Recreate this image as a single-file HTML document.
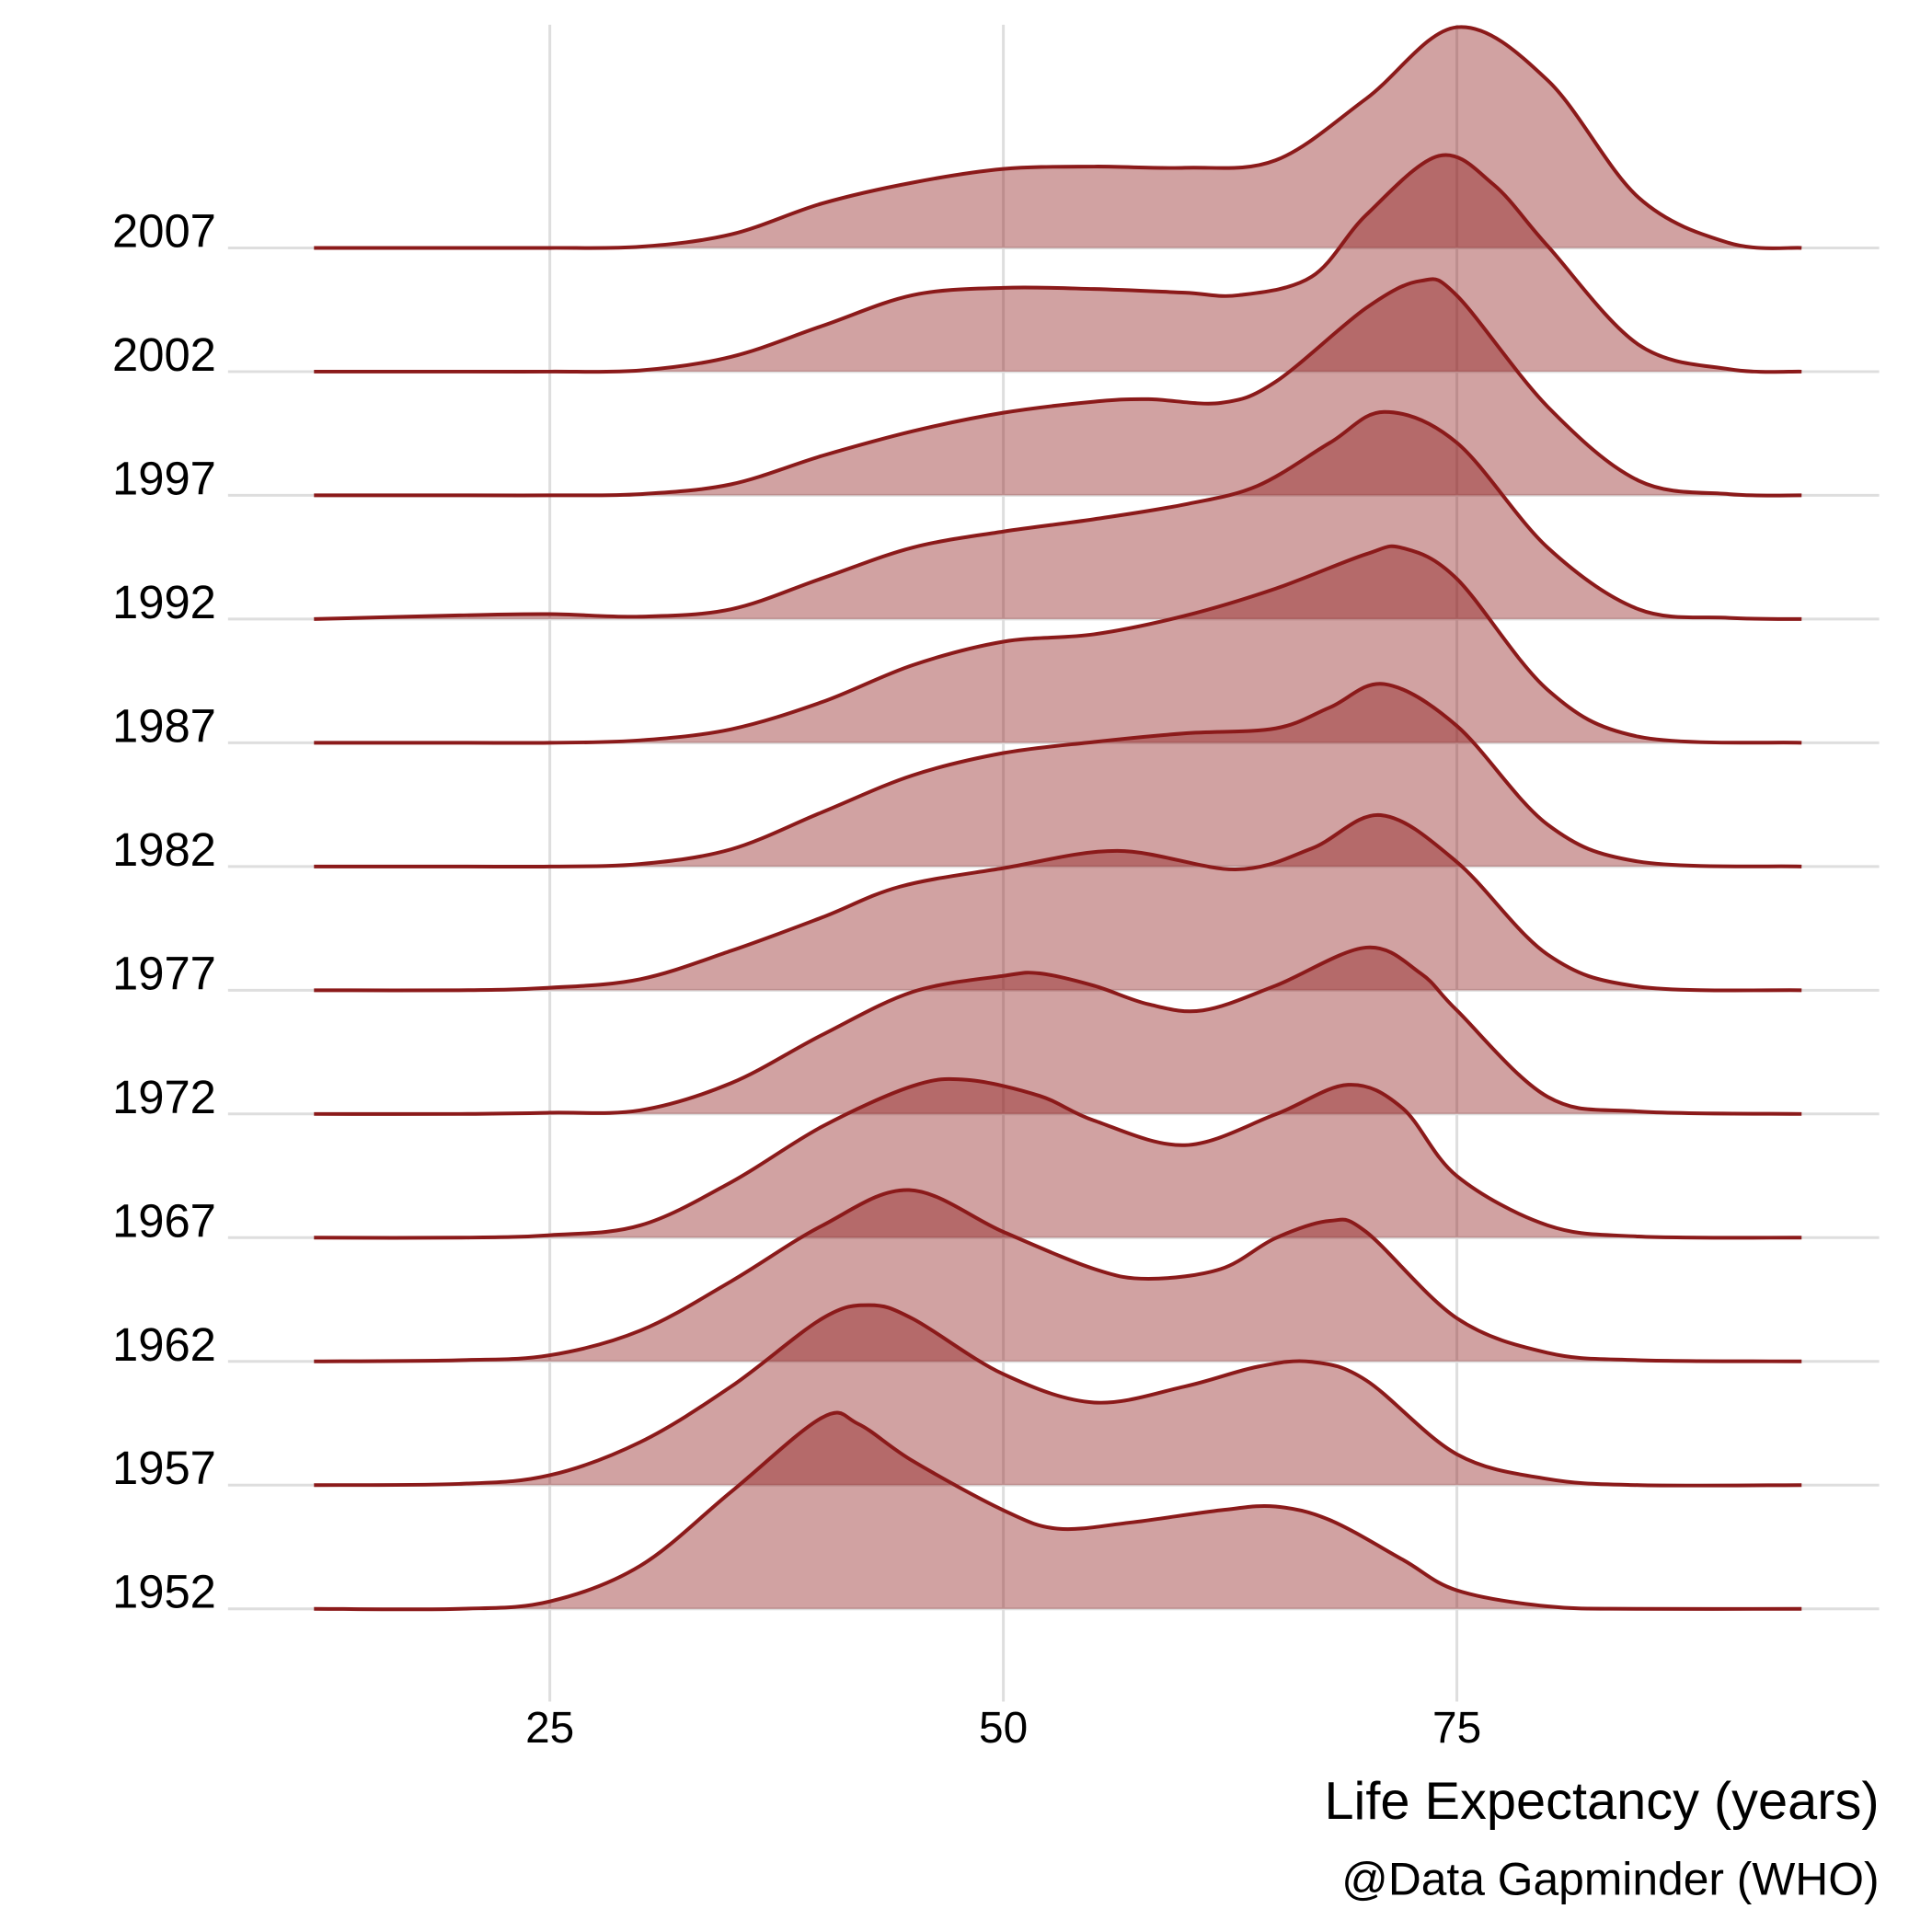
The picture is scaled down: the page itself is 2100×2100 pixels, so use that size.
<!DOCTYPE html>
<html><head><meta charset="utf-8"><style>
html,body{margin:0;padding:0;background:#fff;}
svg{display:block;font-family:"Liberation Sans",sans-serif;}
</style></head><body>
<svg id="chart" width="2100" height="2100" viewBox="0 0 2100 2100" xmlns="http://www.w3.org/2000/svg">
<g transform="scale(0.9954)">
<g id="grid"></g>
<g id="ridges"></g>
<g id="labels"></g>
<text x="2052" y="1986" font-size="58" text-anchor="end" fill="#000">Life Expectancy (years)</text>
<text x="2052" y="2069" font-size="50" text-anchor="end" fill="#000">@Data Gapminder (WHO)</text>
</g>
</svg>
<script>
const years = ["1952","1957","1962","1967","1972","1977","1982","1987","1992","1997","2002","2007"];
const xTicks = [25,50,75];
const d1952 = [[12,0],[20,0],[25,6],[30,35],[35,95],[40,155],[42,150],[45,120],[50,80],[53,65],[57,70],[62,80],[65,83],[68,72],[72,40],[75,15],[80,2],[85,0],[94,0]];
const d1957 = [[12,0],[20,1],[25,8],[30,35],[35,80],[40,135],[42.6,146],[45,135],[50,90],[55,67],[60,80],[64,96],[67,100],[70,85],[75,25],[80,5],[85,0],[94,0]];
const d1962 = [[12,0],[20,1],[25,5],[30,25],[35,65],[40,110],[44.8,139],[50,105],[55,75],[58,67],[62,75],[65,100],[68,114],[70,105],[75,35],[80,7],[85,1],[94,0]];
const d1967 = [[12,0],[20,0],[25,2],[30,10],[35,45],[40,90],[45,123],[48,128],[52,115],[55,95],[60,75],[65,100],[69,124],[72,105],[75,50],[80,10],[85,1],[94,0]];
const d1972 = [[12,0],[20,0],[25,1],[30,3],[35,25],[40,64],[45,99],[50,112],[52,114],[55,104],[58,89],[61,84],[65,104],[70,135],[73,114],[75,84],[80,14],[85,2],[94,0]];
const d1977 = [[12,0],[20,0],[25,2],[30,9],[35,32],[40,59],[44.3,84],[50,99],[56.3,113],[62.8,98],[67,115],[70.8,142],[75,104],[80,29],[85,3],[94,0]];
const d1982 = [[12,0],[20,0],[25,0],[30,2],[35,14],[40,44],[45,74],[50,92],[55,101],[60,108],[65,112],[68,129],[71,148],[75,114],[80,34],[85,4],[94,0]];
const d1987 = [[12,0],[20,0],[25,0],[30,2],[35,11],[40,33],[45,63],[50,82],[55,88],[60,103],[65,125],[70,153],[72,158],[75,133],[80,43],[85,5],[94,0]];
const d1992 = [[12,0],[20,3],[25,4],[30,2],[35,8],[40,33],[45,58],[50,71],[55,81],[60,93],[64,108],[68,143],[71,168],[75,143],[80,58],[85,8],[90,1],[94,0]];
const d1997 = [[12,0],[20,0],[25,0],[30,1],[35,9],[40,32],[45,52],[50,67],[55,76],[58,78],[62,75],[65,92],[70,152],[73,174],[75,162],[80,72],[85,12],[90,1],[94,0]];
const d2002 = [[12,0],[20,0],[25,0],[30,1],[35,12],[40,37],[45,62],[50,68],[55,67],[60,64],[63,62],[67,77],[70,127],[74,175],[77,152],[80,102],[85,22],[90,2],[94,0]];
const d2007 = [[12,0],[20,0],[25,0],[30,1],[35,11],[40,36],[45,53],[50,64],[55,66],[60,65],[65,71],[70,121],[75,179],[80,136],[85,41],[90,4],[94,0]];
const densities = [d1952,d1957,d1962,d1967,d1972,d1977,d1982,d1987,d1992,d1997,d2002,d2007];

const NS = "http://www.w3.org/2000/svg";
const xS = v => 600.4 + (v - 25) * 19.81;
const baseY = i => 1756.8 - i * 135.1;
const hS = h => h * 1.3462;

const grid = document.getElementById('grid');
const labels = document.getElementById('labels');
const ridges = document.getElementById('ridges');

xTicks.forEach(t => {
  const l = document.createElementNS(NS, 'line');
  
  
  l.setAttribute('x1', xS(t)); l.setAttribute('x2', xS(t));
  l.setAttribute('y1', 27); l.setAttribute('y2', 1858);
  l.setAttribute('stroke', '#dedede'); l.setAttribute('stroke-width', 3);
  grid.appendChild(l);
  const tx = document.createElementNS(NS, 'text');
  
  
  tx.setAttribute('x', xS(t)); tx.setAttribute('y', 1903);
  tx.setAttribute('font-size', 48); tx.setAttribute('text-anchor', 'middle');
  tx.textContent = t;
  labels.appendChild(tx);
});
years.forEach((y, i) => {
  const l = document.createElementNS(NS, 'line');
  
  
  l.setAttribute('x1', 249); l.setAttribute('x2', 2052);
  l.setAttribute('y1', baseY(i)); l.setAttribute('y2', baseY(i));
  l.setAttribute('stroke', '#dedede'); l.setAttribute('stroke-width', 3);
  grid.appendChild(l);
  const tx = document.createElementNS(NS, 'text');
  
  
  tx.setAttribute('x', 236); tx.setAttribute('y', baseY(i) - 1);
  tx.setAttribute('font-size', 51); tx.setAttribute('text-anchor', 'end');
  tx.textContent = y;
  labels.appendChild(tx);
});

function smoothPath(pts) {
  let d = `M${pts[0][0]},${pts[0][1]}`;
  for (let i = 0; i < pts.length - 1; i++) {
    const p0 = pts[Math.max(i - 1, 0)], p1 = pts[i], p2 = pts[i + 1], p3 = pts[Math.min(i + 2, pts.length - 1)];
    const c1x = p1[0] + (p2[0] - p0[0]) / 6, c1y = p1[1] + (p2[1] - p0[1]) / 6;
    const c2x = p2[0] - (p3[0] - p1[0]) / 6, c2y = p2[1] - (p3[1] - p1[1]) / 6;
    d += ` C${c1x.toFixed(1)},${c1y.toFixed(1)} ${c2x.toFixed(1)},${c2y.toFixed(1)} ${p2[0].toFixed(1)},${p2[1].toFixed(1)}`;
  }
  return d;
}

for (let i = years.length - 1; i >= 0; i--) {
  const b = baseY(i);
  const pts = densities[i].map(p => [xS(p[0]), b - hS(p[1])]);
  const line = smoothPath(pts);
  const fill = document.createElementNS(NS, 'path');
  
  
  fill.setAttribute('d', line + ` L${pts[pts.length-1][0]},${b} L${pts[0][0]},${b} Z`);
  fill.setAttribute('fill', 'rgba(139,22,22,0.4)');
  ridges.appendChild(fill);
  const stroke = document.createElementNS(NS, 'path');
  
  
  stroke.setAttribute('d', line);
  stroke.setAttribute('fill', 'none');
  stroke.setAttribute('stroke', '#8b1a1a');
  stroke.setAttribute('stroke-width', 4);
  stroke.setAttribute('stroke-linejoin', 'round');
  ridges.appendChild(stroke);
}
</script>
</body></html>
